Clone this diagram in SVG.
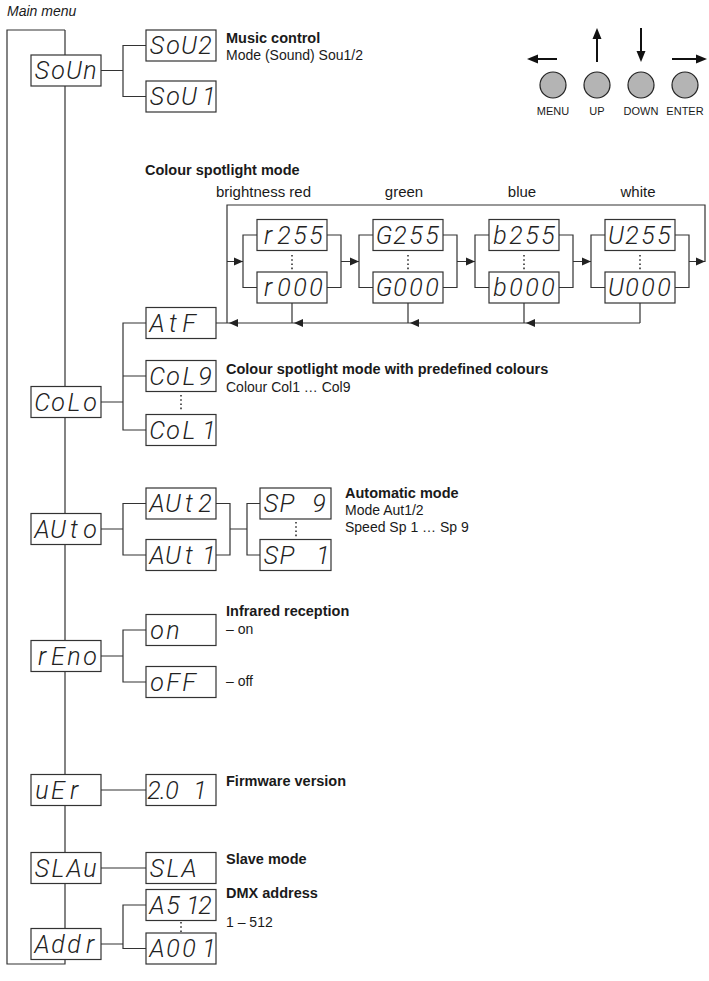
<svg xmlns="http://www.w3.org/2000/svg" width="709" height="981" viewBox="0 0 709 981">
<style>
.ln{fill:none;stroke:#333;stroke-width:1.2}
.bx{fill:#fff;stroke:#333;stroke-width:1.2}
.sg{font-family:Roboto,"DejaVu Sans",sans-serif;font-weight:300;font-style:italic;font-size:25px;fill:#222;text-anchor:middle}
.h{font-family:"Liberation Sans",Arial,sans-serif;font-weight:bold;font-size:14.5px;fill:#1a1a1a}
.t{font-family:"Liberation Sans",Arial,sans-serif;font-size:14px;fill:#1a1a1a}
.c{font-family:"Liberation Sans",Arial,sans-serif;font-size:15px;fill:#1a1a1a}
.it{font-family:"Liberation Sans",Arial,sans-serif;font-style:italic;font-size:14px;fill:#1a1a1a}
.dt{fill:none;stroke:#333;stroke-width:1.6;stroke-dasharray:1.6 2.6}
.btn{fill:#b4b4b4;stroke:#222;stroke-width:1.2}
.bl{font-family:"Liberation Sans",Arial,sans-serif;font-size:11px;fill:#1a1a1a;text-anchor:middle}
.ba{stroke:#111;stroke-width:2;fill:none}
</style>
<defs>
<path id="aL" d="M0,0 L9,-4 L9,4 Z" fill="#222"/>
<path id="aR" d="M0,0 L-9,-4 L-9,4 Z" fill="#222"/>
<path id="bL" d="M0,0 L11,-4.5 L11,4.5 Z" fill="#111"/>
<path id="bR" d="M0,0 L-11,-4.5 L-11,4.5 Z" fill="#111"/>
<path id="bU" d="M0,0 L-4.5,11 L4.5,11 Z" fill="#111"/>
<path id="bD" d="M0,0 L-4.5,-11 L4.5,-11 Z" fill="#111"/>
</defs>

<text class="it" x="7" y="16">Main menu</text>

<g id="connectors">
  <path class="ln" d="M65,30 H7 V964 H65 V30"/>
  <path class="ln" d="M101,70.5 H123 M146,45.5 H123 V96.5 H146"/>
  <path class="ln" d="M101,402 H123 M146,323 H123 V430 H146 M123,376 H146"/>
  <path class="ln" d="M216,323 H640 M292,303 V323 M408,303 V323 M524,303 V323 M640,303 V323"/>
  <path class="ln" d="M227,323 V205 H705 V261.5 H689"/>
  <path class="ln" d="M227,261.5 H243 M257,235 H243 V287.5 H257 M327,235 H341 V287.5 H327 M341,261.5 H359"/>
  <path class="ln" d="M373,235 H359 V287.5 H373 M443,235 H457 V287.5 H443 M457,261.5 H475"/>
  <path class="ln" d="M489,235 H475 V287.5 H489 M559,235 H573 V287.5 H559 M573,261.5 H591"/>
  <path class="ln" d="M605,235 H591 V287.5 H605 M675,235 H689 V287.5 H675"/>
  <use href="#aR" x="243" y="261.5"/>
  <use href="#aR" x="359" y="261.5"/>
  <use href="#aR" x="475" y="261.5"/>
  <use href="#aR" x="591" y="261.5"/>
  <use href="#aR" x="705" y="261.5"/>
  <use href="#aL" x="229" y="323"/>
  <use href="#aL" x="294" y="323"/>
  <use href="#aL" x="410" y="323"/>
  <use href="#aL" x="526" y="323"/>
  <path class="ln" d="M101,529 H123 M146,503.5 H123 V555 H146 M216,503.5 H230 V555 H216 M230,529 H247 M260,503.5 H247 V555 H260"/>
  <path class="ln" d="M101,656 H123 M146,630 H123 V682 H146"/>
  <path class="ln" d="M101,790 H146 M101,868 H146"/>
  <path class="ln" d="M101,944 H123 M146,905 H123 V948.5 H146"/>
  <path class="dt" d="M292,255 V270 M408,255 V270 M524,255 V270 M640,255 V270 M181,395 V411 M296,522 V537 M181,922 V935"/>
</g>

<g id="buttons">
  <circle class="btn" cx="553" cy="85" r="13"/>
  <circle class="btn" cx="597" cy="85" r="13"/>
  <circle class="btn" cx="641" cy="85" r="13"/>
  <circle class="btn" cx="685" cy="85" r="13"/>
  <path class="ba" d="M557,59 H537 M597,62 V38 M641,28 V52 M672,59 H697"/>
  <use href="#bL" x="527" y="59"/>
  <use href="#bU" x="597" y="28"/>
  <use href="#bD" x="641" y="62"/>
  <use href="#bR" x="707" y="59"/>
  <text class="bl" x="553" y="115">MENU</text>
  <text class="bl" x="597" y="115">UP</text>
  <text class="bl" x="641" y="115">DOWN</text>
  <text class="bl" x="685" y="115">ENTER</text>
</g>

<g id="soun"><rect class="bx" x="31" y="55" width="70" height="31"/><text class="sg" x="42 58 74 90" y="79">SoUn</text></g>
<g id="sou2"><rect class="bx" x="146" y="30" width="70" height="31"/><text class="sg" x="157 173 189 205" y="54">SoU2</text></g>
<g id="sou1"><rect class="bx" x="146" y="81" width="70" height="31"/><text class="sg" x="157 173 189 209" y="105">SoU1</text></g>
<g id="t-music"><text class="h" x="226" y="43">Music control</text><text class="t" x="226" y="60">Mode (Sound) Sou1/2</text></g>

<g id="t-colour">
  <text class="h" x="145" y="175">Colour spotlight mode</text>
  <text class="c" x="311" y="197" text-anchor="end">brightness red</text>
  <text class="c" x="404" y="197" text-anchor="middle">green</text>
  <text class="c" x="522" y="197" text-anchor="middle">blue</text>
  <text class="c" x="638" y="197" text-anchor="middle">white</text>
</g>
<g id="r255"><rect class="bx" x="257" y="219.5" width="70" height="31"/><text class="sg" x="268 284 300 316" y="243.5">r255</text></g>
<g id="r000"><rect class="bx" x="257" y="272" width="70" height="31"/><text class="sg" x="268 284 300 316" y="296">r000</text></g>
<g id="g255"><rect class="bx" x="373" y="219.5" width="70" height="31"/><text class="sg" x="384 400 416 432" y="243.5">G255</text></g>
<g id="g000"><rect class="bx" x="373" y="272" width="70" height="31"/><text class="sg" x="384 400 416 432" y="296">G000</text></g>
<g id="b255"><rect class="bx" x="489" y="219.5" width="70" height="31"/><text class="sg" x="500 516 532 548" y="243.5">b255</text></g>
<g id="b000"><rect class="bx" x="489" y="272" width="70" height="31"/><text class="sg" x="500 516 532 548" y="296">b000</text></g>
<g id="u255"><rect class="bx" x="605" y="219.5" width="70" height="31"/><text class="sg" x="616 632 648 664" y="243.5">U255</text></g>
<g id="u000"><rect class="bx" x="605" y="272" width="70" height="31"/><text class="sg" x="616 632 648 664" y="296">U000</text></g>

<g id="colo"><rect class="bx" x="31" y="386.5" width="70" height="31"/><text class="sg" x="42 58 74 90" y="410.5">CoLo</text></g>
<g id="atf"><rect class="bx" x="146" y="307.5" width="70" height="31"/><text class="sg" x="157 173 189" y="331.5">AtF</text></g>
<g id="col9"><rect class="bx" x="146" y="360.5" width="70" height="31"/><text class="sg" x="157 173 189 205" y="384.5">CoL9</text></g>
<g id="col1"><rect class="bx" x="146" y="414.5" width="70" height="31"/><text class="sg" x="157 173 189 209" y="438.5">CoL1</text></g>
<g id="t-predef"><text class="h" x="226" y="374">Colour spotlight mode with predefined colours</text><text class="t" x="226" y="392">Colour Col1 … Col9</text></g>

<g id="auto"><rect class="bx" x="31" y="513.5" width="70" height="31"/><text class="sg" x="42 58 74 90" y="537.5">AUto</text></g>
<g id="aut2"><rect class="bx" x="146" y="488" width="70" height="31"/><text class="sg" x="157 173 189 205" y="512">AUt2</text></g>
<g id="aut1"><rect class="bx" x="146" y="539.5" width="70" height="31"/><text class="sg" x="157 173 189 209" y="563.5">AUt1</text></g>
<g id="sp9"><rect class="bx" x="260" y="488" width="71" height="31"/><text class="sg" x="271 287 303 319" y="512">SP 9</text></g>
<g id="sp1"><rect class="bx" x="260" y="539.5" width="71" height="31"/><text class="sg" x="271 287 303 323" y="563.5">SP 1</text></g>
<g id="t-auto"><text class="h" x="345" y="498">Automatic mode</text><text class="t" x="345" y="515">Mode Aut1/2</text><text class="t" x="345" y="532">Speed Sp 1 … Sp 9</text></g>

<g id="reno"><rect class="bx" x="31" y="640.5" width="70" height="31"/><text class="sg" x="42 58 74 90" y="664.5">rEno</text></g>
<g id="on"><rect class="bx" x="146" y="614.5" width="70" height="31"/><text class="sg" x="157 173" y="638.5">on</text></g>
<g id="off"><rect class="bx" x="146" y="666.5" width="70" height="31"/><text class="sg" x="157 173 189" y="690.5">oFF</text></g>
<g id="t-ir"><text class="h" x="226" y="616">Infrared reception</text><text class="t" x="226" y="634">– on</text><text class="t" x="226" y="686">– off</text></g>

<g id="ver"><rect class="bx" x="31" y="774.5" width="70" height="31"/><text class="sg" x="42 58 74" y="798.5">uEr</text></g>
<g id="v201"><rect class="bx" x="146" y="774.5" width="70" height="31"/><text class="sg" x="154 163 172 200" y="798.5">2.01</text></g>
<g id="t-fw"><text class="h" x="226" y="786">Firmware version</text></g>

<g id="slau"><rect class="bx" x="31" y="852.5" width="70" height="31"/><text class="sg" x="42 58 74 90" y="876.5">SLAu</text></g>
<g id="sla"><rect class="bx" x="146" y="852.5" width="70" height="31"/><text class="sg" x="157 173 189" y="876.5">SLA</text></g>
<g id="t-slave"><text class="h" x="226" y="864">Slave mode</text></g>

<g id="addr"><rect class="bx" x="31" y="928.5" width="70" height="31"/><text class="sg" x="42 58 74 90" y="952.5">Addr</text></g>
<g id="a512"><rect class="bx" x="146" y="889.5" width="70" height="31"/><text class="sg" x="157 173 193 205" y="913.5">A512</text></g>
<g id="a001"><rect class="bx" x="146" y="933" width="70" height="31"/><text class="sg" x="157 173 189 209" y="957">A001</text></g>
<g id="t-dmx"><text class="h" x="226" y="898">DMX address</text><text class="t" x="226" y="927">1 – 512</text></g>
</svg>
